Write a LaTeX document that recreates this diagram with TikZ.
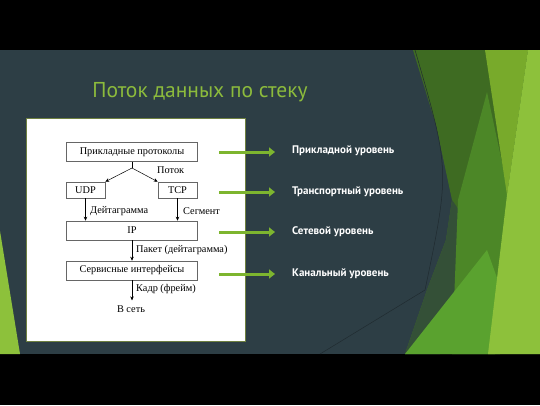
\documentclass[tikz,border=0pt]{standalone}
\usepackage{fontspec}
\setmainfont{Liberation Serif}
\newfontfamily\slidefont{PT Sans}
\usetikzlibrary{arrows.meta}
\definecolor{slate}{HTML}{2D3E45}
\definecolor{darkleaf}{HTML}{3E6B22}
\definecolor{midleaf}{HTML}{4C8727}
\definecolor{brightleaf}{HTML}{5AA22F}
\definecolor{oliveleaf}{HTML}{78AA2B}
\definecolor{lightleaf}{HTML}{8DC13B}
\definecolor{titlegreen}{HTML}{8CBB3C}
\definecolor{arrowgreen}{HTML}{7DB52F}
\definecolor{frame}{HTML}{6E8040}
\begin{document}
\begin{tikzpicture}[x=1pt,y=-1pt,
    box/.style={draw=gray!80!black,line width=0.6pt,inner sep=0pt,
      minimum width=131pt,minimum height=19pt,font=\fontsize{10.3}{12}\selectfont},
    small/.style={box,minimum width=39pt,minimum height=16pt},
    lbl/.style={anchor=west,inner sep=0pt,font=\fontsize{10.3}{12}\selectfont},
    flow/.style={-{Stealth[length=4pt,width=3.5pt]},line width=0.5pt},
    level/.style={anchor=west,inner sep=0pt,text=white,
      font=\slidefont\bfseries\fontsize{11}{13}\selectfont},
    link/.style={-{Triangle[length=6pt,width=9pt]},line width=3pt,
      draw=arrowgreen,shorten >=17pt}]
  \useasboundingbox (0,0) rectangle (540,405);
  \fill[black] (0,0) rectangle (540,405);
  \fill[slate] (0,50) rectangle (540,354);
  % facets on the right
  \fill[darkleaf] (413,50) -- (540,50) -- (540,354) -- (405,354)
    -- (427,290) -- (446,240) -- (452,200) -- (436,125) -- cycle;
  \fill[slate!60!darkleaf] (452,200) -- (446,240) -- (427,290) -- (405,354)
    -- (440,354) -- (487,250) -- cycle;
  \fill[midleaf] (487,92) -- (510,200) -- (500,354) -- (452,354)
    -- (458,200) -- cycle;
  \fill[brightleaf] (405,354) -- (487,250) -- (505,300) -- (495,354) -- cycle;
  \fill[oliveleaf] (485,50) -- (528,50) -- (507,195) -- cycle;
  \fill[lightleaf] (528,50) -- (540,50) -- (540,354) -- (488,354)
    -- (507,195) -- cycle;
  \fill[lightleaf] (0,231) -- (20,354) -- (0,354) -- cycle;
  \draw[slate!70!black,line width=0.5pt] (415,50) .. controls (450,170) .. (425,290)
    -- (320,354);
  % title
  \node[font=\slidefont\fontsize{21.5}{25}\selectfont,text=titlegreen]
    (title) at (200,92) {Поток данных по стеку};
  % white panel
  \draw[frame,fill=white,line width=0.8pt] (26,118) rectangle (245,341);
  \node[box] (app) at (132,152) {Прикладные протоколы};
  \node[small] (udp) at (85.5,190) {UDP};
  \node[small] (tcp) at (177.5,190) {TCP};
  \node[box] (ip) at (132,230.5) {IP};
  \node[box] (svc) at (132,270.5) {Сервисные интерфейсы};
  \node[font=\fontsize{10.3}{12}\selectfont,inner sep=0pt] (net) at (131,309) {В сеть};
  \coordinate (fork) at (132,168);
  \draw[line width=0.5pt] (app.south) -- (fork);
  \draw[flow] (fork) -- (udp.north east);
  \draw[flow] (fork) -- (tcp.north west);
  \draw[flow] (udp.south) -- (udp.south |- ip.north);
  \draw[flow] (tcp.south) -- (tcp.south |- ip.north);
  \draw[flow] (ip.south) -- (svc.north);
  \draw[flow,shorten >=5pt] (svc.south) -- (svc.south |- net.north);
  \node[lbl] (potok) at (157,170) {Поток};
  \node[lbl] (dgram) at (90,211) {Дейтаграмма};
  \node[lbl] (segm) at (183,211) {Сегмент};
  \node[lbl] (pkt) at (136,250) {Пакет (дейтаграмма)};
  \node[lbl] (frm) at (136,289) {Кадр (фрейм)};
  % levels
  \node[level] (l1) at (292,151) {Прикладной уровень};
  \node[level] (l2) at (292,192) {Транспортный уровень};
  \node[level] (l3) at (292,232) {Сетевой уровень};
  \node[level] (l4) at (292,274) {Канальный уровень};
  \coordinate (s1) at (219,152);
  \coordinate (s2) at (219,192);
  \coordinate (s3) at (219,232);
  \coordinate (s4) at (219,274);
  \draw[link] (s1) -- (s1 -| l1.west);
  \draw[link] (s2) -- (s2 -| l2.west);
  \draw[link] (s3) -- (s3 -| l3.west);
  \draw[link] (s4) -- (s4 -| l4.west);
\end{tikzpicture}
\end{document}
